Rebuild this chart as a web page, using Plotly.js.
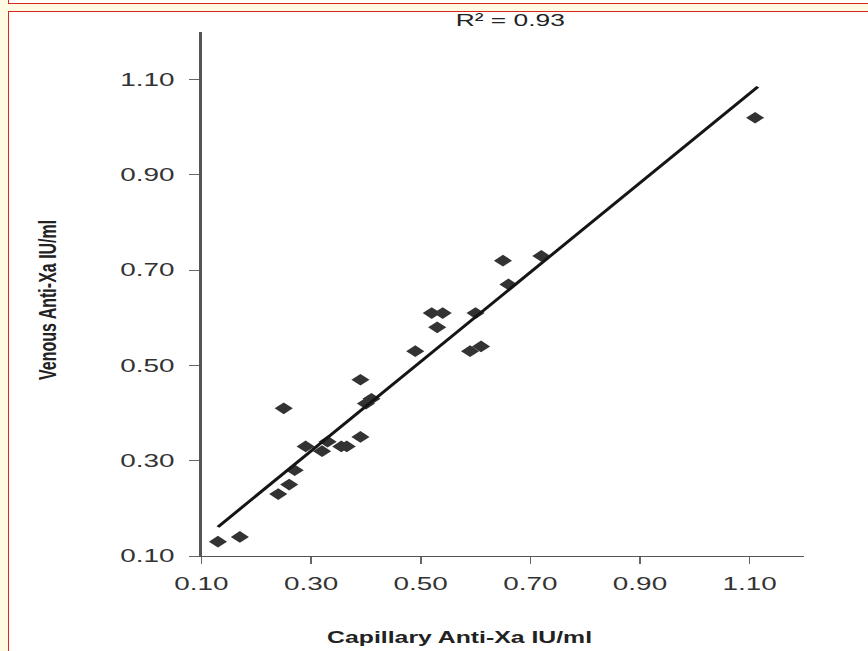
<!DOCTYPE html>
<html>
<head>
<meta charset="utf-8">
<script src="https://cdn.plot.ly/plotly-3.0.1.min.js"></script>
<style>
html,body{margin:0;padding:0;width:868px;height:651px;overflow:hidden;background:#fffbe2;position:relative;}
#prev{position:absolute;left:8px;top:-20px;width:900px;height:23px;background:#ffffff;border-left:1.5px solid #d8261c;border-bottom:1.5px solid #d8261c;}
#box{position:absolute;left:8px;top:11px;width:900px;height:700px;background:#ffffff;border-left:1.5px solid #d8261c;border-top:1.5px solid #d8261c;}
#chart{position:absolute;left:0;top:0;width:560px;height:651px;transform:scaleX(1.55);transform-origin:0 0;}
</style>
</head>
<body>
<div id="prev"></div>
<div id="box"></div>
<div id="chart"></div>
<script>
// Capillary vs venous anti-Xa (IU/ml)
const capillary = [0.13,0.17,0.24,0.26,0.27,0.25,0.29,0.32,0.33,0.355,0.365,0.39,0.39,0.40,0.41,0.49,0.52,0.54,0.53,0.60,0.59,0.61,0.65,0.66,0.72,1.11];
const venous    = [0.13,0.14,0.23,0.25,0.28,0.41,0.33,0.32,0.34,0.33,0.33,0.35,0.47,0.42,0.43,0.53,0.61,0.61,0.58,0.61,0.53,0.54,0.72,0.67,0.73,1.02];
// Regression line end points
const fitX = [0.13, 1.115];
const fitY = [0.161, 1.085];
// Tick labels
const tickVals = [0.10,0.30,0.50,0.70,0.90,1.10];
const tickText = ['0.10','0.30','0.50','0.70','0.90','1.10'];
const rSquared = 'R\u00b2 = 0.93';

const FONT = 'Liberation Sans, Arial, Helvetica, sans-serif';

const traces = [
  {x: capillary, y: venous, type: 'scatter', mode: 'markers',
   marker: {symbol: 'diamond', size: 9, color: '#333333'}, cliponaxis: false, showlegend: false},
  {x: fitX, y: fitY, type: 'scatter', mode: 'lines',
   line: {color: '#151515', width: 2.4}, showlegend: false}
];

const axisCommon = {
  showgrid: false, zeroline: false, showline: true, linecolor: '#555555', linewidth: 1.3,
  ticks: 'outside', tickcolor: '#666666', tickwidth: 1,
  tickvals: tickVals, ticktext: tickText,
  tickfont: {family: FONT, size: 18, color: '#333333'}
};

const layout = {
  width: 560, height: 651,
  margin: {l: 130.3, r: 40.6, t: 32, b: 95},
  paper_bgcolor: 'rgba(0,0,0,0)', plot_bgcolor: 'rgba(0,0,0,0)',
  xaxis: Object.assign({}, axisCommon, {range: [0.10, 1.20], ticklen: 7, ticklabelstandoff: 4}),
  yaxis: Object.assign({}, axisCommon, {range: [0.10, 1.20], ticklen: 6.5, ticklabelstandoff: 6}),
  annotations: [
    {text: rSquared, xref: 'paper', yref: 'paper', x: 0.511, y: 1.021, xanchor: 'center', yanchor: 'middle',
     showarrow: false, font: {family: FONT, size: 17, color: '#222222'}},
    {text: 'Capillary Anti-Xa IU/ml', xref: 'paper', yref: 'paper', x: 0.428, y: -0.1546,
     xanchor: 'center', yanchor: 'middle', showarrow: false,
     font: {family: FONT, size: 16, color: '#222222', weight: 'bold'}},
    {text: 'Venous Anti-Xa IU/ml', xref: 'paper', yref: 'paper', x: -0.257, y: 0.4885, textangle: -90,
     xanchor: 'center', yanchor: 'middle', showarrow: false,
     font: {family: FONT, size: 16, color: '#222222', weight: 'bold'}}
  ]
};

Plotly.newPlot('chart', traces, layout, {displayModeBar: false, staticPlot: true});
</script>
</body>
</html>
